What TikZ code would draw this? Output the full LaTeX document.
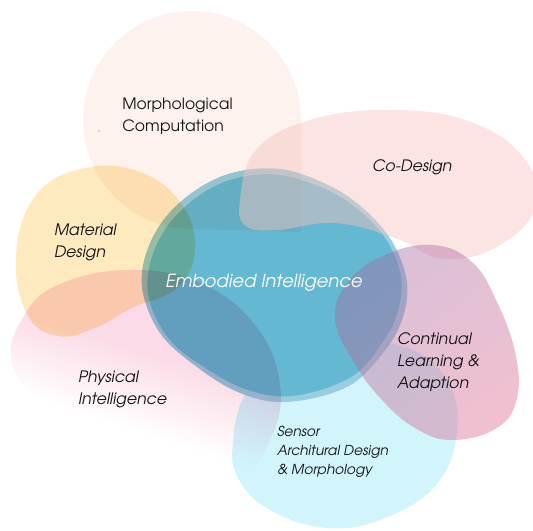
\documentclass[tikz,border=0pt]{standalone}
\usepackage{fontspec}
\setmainfont{texgyreadventor}[Extension=.otf, UprightFont=*-regular, ItalicFont=*-italic, BoldFont=*-bold, BoldItalicFont=*-bolditalic]
\usetikzlibrary{fadings}
\definecolor{sensorc}{RGB}{210,245,252}
\definecolor{embrim}{RGB}{152,206,224}
\definecolor{embin}{RGB}{100,184,210}
\definecolor{physc}{RGB}{251,219,231}
\definecolor{morphc}{RGB}{253,242,237}
\definecolor{matc}{RGB}{254,234,190}
\definecolor{codc}{RGB}{246,196,191}
\definecolor{contp}{RGB}{165,105,160}
\definecolor{contk}{RGB}{219,105,143}
\definecolor{txt}{RGB}{20,20,20}
\pgfdeclareverticalshading{physlin}{1000bp}{color(0bp)=(black); color(500bp)=(black); color(560bp)=(white); color(1000bp)=(white)}
\pgfdeclarefading{physfade}{\pgfuseshading{physlin}}
\begin{document}
\begin{tikzpicture}[x=0.75pt,y=-0.75pt,
  lbl/.style={anchor=west, align=left, inner sep=0pt, text=txt,
    font=\itshape\fontsize{11.8}{16.5}\selectfont},
  blob/.style={smooth cycle, tension=0.7},
  eblob/.style={smooth cycle, tension=0.6}]
\useasboundingbox (0,0) rectangle (533,531);
% Sensor
\fill[sensorc] plot[blob] coordinates {(233,442) (245,395) (280,362) (340,345) (405,347) (447,380) (457,432) (436,485) (385,518) (328,528) (270,510) (238,478)};
% Embodied (outer rim and inner body)
\fill[embrim] plot[eblob] coordinates {(142,287) (150,243) (178,204) (225,175) (280,169) (330,186) (365,210) (393,243) (407,283) (402,320) (383,353) (347,387) (287,402) (240,393) (197,367) (160,333)};
\begin{scope}[shift={(276,286)}, rotate=4, scale=0.955, shift={(-276,-286)}]
\fill[embin] plot[eblob] coordinates {(142,287) (150,243) (178,204) (225,175) (280,169) (330,186) (365,210) (393,243) (407,283) (402,320) (383,353) (347,387) (287,402) (240,393) (197,367) (160,333)};
\end{scope}
% Physical
\fill[physc, blend mode=multiply, path fading=physfade, fit fading=false,
  fading transform={shift={(100,420)}, rotate=-18}]
  plot[blob] coordinates {(13,366) (24,316) (60,284) (130,270) (200,283) (255,325) (280,385) (270,440) (240,470) (150,470) (60,420)};
% Morphological
\fill[morphc, blend mode=multiply] (301,232) -- (301,120) arc[start angle=0, end angle=-270, radius=109] -- cycle;
% Material
\fill[matc, blend mode=multiply] plot[blob] coordinates {(16,255) (36,195) (85,168) (140,172) (180,202) (195,247) (178,287) (132,308) (95,328) (58,336) (27,314)};
% Co-Design
\fill[codc, fill opacity=0.46] plot[blob] coordinates {(240,200) (256,150) (310,120) (390,110) (468,121) (522,156) (536,205) (500,245) (445,259) (395,238) (335,223) (278,230) (246,226)};
% Continual
\shade[fill opacity=0.42, top color=contp, middle color=contp, bottom color=contk, shading angle=35]
  plot[blob] coordinates {(335,320) (348,282) (385,255) (433,245) (472,262) (497,302) (515,352) (517,398) (497,428) (452,440) (415,428) (382,400) (355,364)};
% dot
\fill[black!60] (99,131) circle (0.6);
% labels
\node[lbl, font=\fontsize{11.7}{16.5}\selectfont] (morph) at (122,116) {Morphological\\Computation};
\node[lbl] (codesign) at (372,167) {Co-Design};
\node[lbl] (material) at (54,242) {Material\\Design};
\node[font=\itshape\fontsize{13.5}{16}\selectfont, text=white, inner sep=0pt] (embodied) at (264,283) {Embodied Intelligence};
\node[lbl] (physical) at (78,389) {Physical\\Intelligence};
\node[lbl] (continual) at (397,362) {Continual\\Learning \&\\Adaption};
\node[lbl, font=\itshape\fontsize{10.3}{14.25}\selectfont] (sensor) at (277,452) {Sensor\\Architural Design\\\& Morphology};
\end{tikzpicture}
\end{document}
